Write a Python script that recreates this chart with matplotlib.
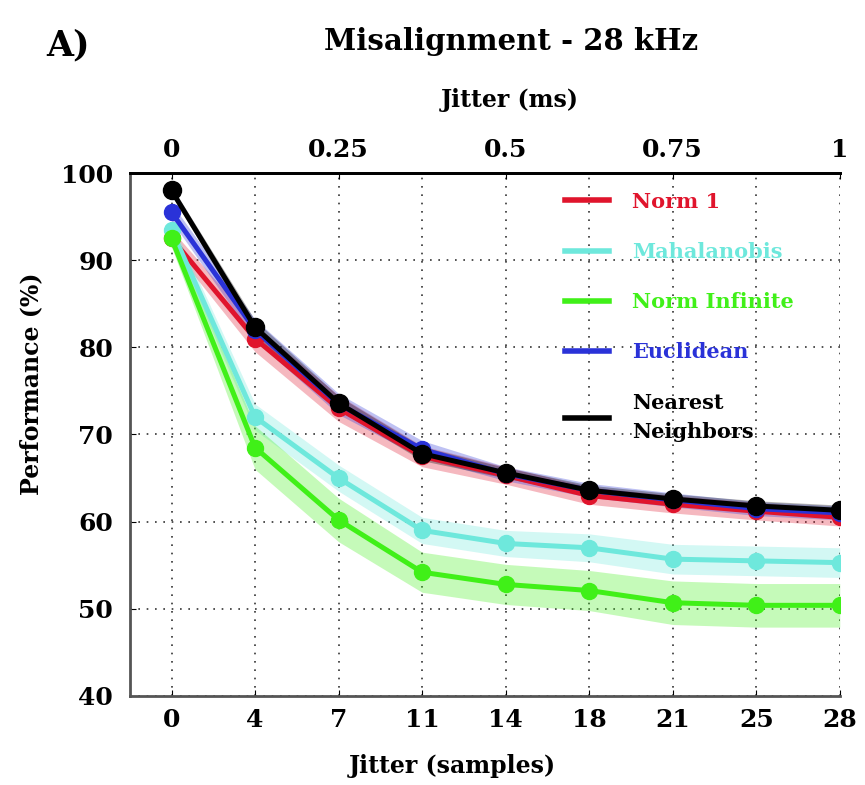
import numpy as np
import matplotlib
matplotlib.use('Agg')
import matplotlib.pyplot as plt

# Jitter in samples (categorical, equally spaced) and in ms on the top axis
jitter_samples = ['0', '4', '7', '11', '14', '18', '21', '25', '28']
jitter_ms_labels = ['0', '0.25', '0.5', '0.75', '1']
jitter_ms_pos = [0, 2, 4, 6, 8]

norm1 = [92.5, 81.0, 73.0, 67.5, 65.3, 63.0, 62.0, 61.2, 60.5]
norm1_err = [1.0, 1.5, 1.5, 1.2, 1.0, 1.0, 1.0, 1.0, 1.0]
mahal = [93.5, 72.0, 65.0, 59.0, 57.5, 57.0, 55.7, 55.5, 55.3]
mahal_err = [1.0, 1.5, 1.5, 1.5, 1.5, 1.6, 1.7, 1.7, 1.7]
norminf = [92.5, 68.5, 60.2, 54.2, 52.8, 52.1, 50.7, 50.4, 50.4]
norminf_err = [1.0, 2.5, 2.5, 2.3, 2.3, 2.3, 2.5, 2.5, 2.5]
eucl = [95.5, 82.0, 73.5, 68.3, 65.5, 63.6, 62.5, 61.5, 61.0]
eucl_err = [1.0, 1.2, 1.2, 1.0, 0.8, 0.8, 0.8, 0.8, 0.8]
nn = [98.0, 82.3, 73.6, 67.8, 65.6, 63.6, 62.6, 61.8, 61.3]
nn_err = [0.5, 0.8, 0.8, 0.8, 0.6, 0.6, 0.6, 0.6, 0.6]

# drawing order: red first so its first point sits behind green / cyan
series = [
    ('Norm 1', norm1, norm1_err, '#e0142c'),
    ('Mahalanobis', mahal, mahal_err, '#6ee8dc'),
    ('Norm Infinite', norminf, norminf_err, '#40f018'),
    ('Euclidean', eucl, eucl_err, '#2a32d8'),
    ('Nearest\nNeighbors', nn, nn_err, '#000000'),
]
legend_order = ['Norm 1', 'Mahalanobis', 'Norm Infinite', 'Euclidean', 'Nearest\nNeighbors']

FONT = 'DejaVu Serif'
plt.rcParams['font.family'] = FONT
plt.rcParams['font.weight'] = 'bold'

fig = plt.figure(figsize=(8.65, 7.85), dpi=100)
ax = fig.add_axes([0.150, 0.1134, 0.8208, 0.6662])

x = np.arange(len(jitter_samples))
handles = {}
for name, vals, err, col in series:
    vals = np.array(vals)
    err = np.array(err)
    ax.fill_between(x, vals - err, vals + err, color=col, alpha=0.3, lw=0, zorder=2)
    ms = 13 if name.startswith('Nearest') else 11.5
    ax.plot(x, vals, color=col, lw=3.6, marker='o', ms=ms, zorder=3)
    h, = ax.plot([], [], color=col, lw=4)
    handles[name] = h

ax.set_xlim(-0.5, 8)
ax.set_ylim(40, 100)
ax.set_xticks(x)
ax.set_xticklabels(jitter_samples)
ax.set_yticks(range(40, 101, 10))
ax.grid(True, ls=(0, (1, 4)), color='#333333', lw=1.2)
ax.tick_params(direction='in', length=4, labelsize=18, pad=9)
ax.tick_params(axis='y', pad=12)
for lab in ax.get_xticklabels() + ax.get_yticklabels():
    lab.set_fontweight('bold')

ax.spines['right'].set_visible(False)
ax.spines['left'].set_color('#555555')
ax.spines['bottom'].set_color('#555555')
ax.spines['left'].set_linewidth(2)
ax.spines['bottom'].set_linewidth(2)
ax.spines['top'].set_linewidth(2)

# top axis in ms
ax2 = ax.twiny()
ax2.set_xlim(ax.get_xlim())
ax2.set_xticks(jitter_ms_pos)
ax2.set_xticklabels(jitter_ms_labels)
ax2.tick_params(direction='in', length=4, labelsize=18, pad=8)
for lab in ax2.get_xticklabels():
    lab.set_fontweight('bold')
for s in ['right', 'left', 'bottom']:
    ax2.spines[s].set_visible(False)
ax2.spines['top'].set_linewidth(2)

leg = ax.legend([handles[n] for n in legend_order], legend_order,
                loc='upper left', bbox_to_anchor=(0.587, 1.0), frameon=False,
                handlelength=2.1, handletextpad=1.1, labelspacing=1.45,
                prop={'family': FONT, 'weight': 'bold', 'size': 15})
colors = {n: c for n, _, _, c in series}
for txt, n in zip(leg.get_texts(), legend_order):
    txt.set_color(colors[n])
    txt.set_linespacing(1.6)

fig.text(31 / 865, 1 - 384 / 785, 'Performance (%)', rotation=90, ha='center', va='center',
         fontsize=17, fontweight='bold')
fig.text(452 / 865, 1 - 766 / 785, 'Jitter (samples)', ha='center', va='center',
         fontsize=17, fontweight='bold')
fig.text(510 / 865, 1 - 100 / 785, 'Jitter (ms)', ha='center', va='center',
         fontsize=17, fontweight='bold')
fig.text(511 / 865, 1 - 42 / 785, 'Misalignment - 28 kHz', ha='center', va='center',
         fontsize=21, fontweight='bold')
fig.text(68 / 865, 1 - 45 / 785, 'A)', ha='center', va='center',
         fontsize=25, fontweight='bold')

fig.savefig('out.png', dpi=100)
